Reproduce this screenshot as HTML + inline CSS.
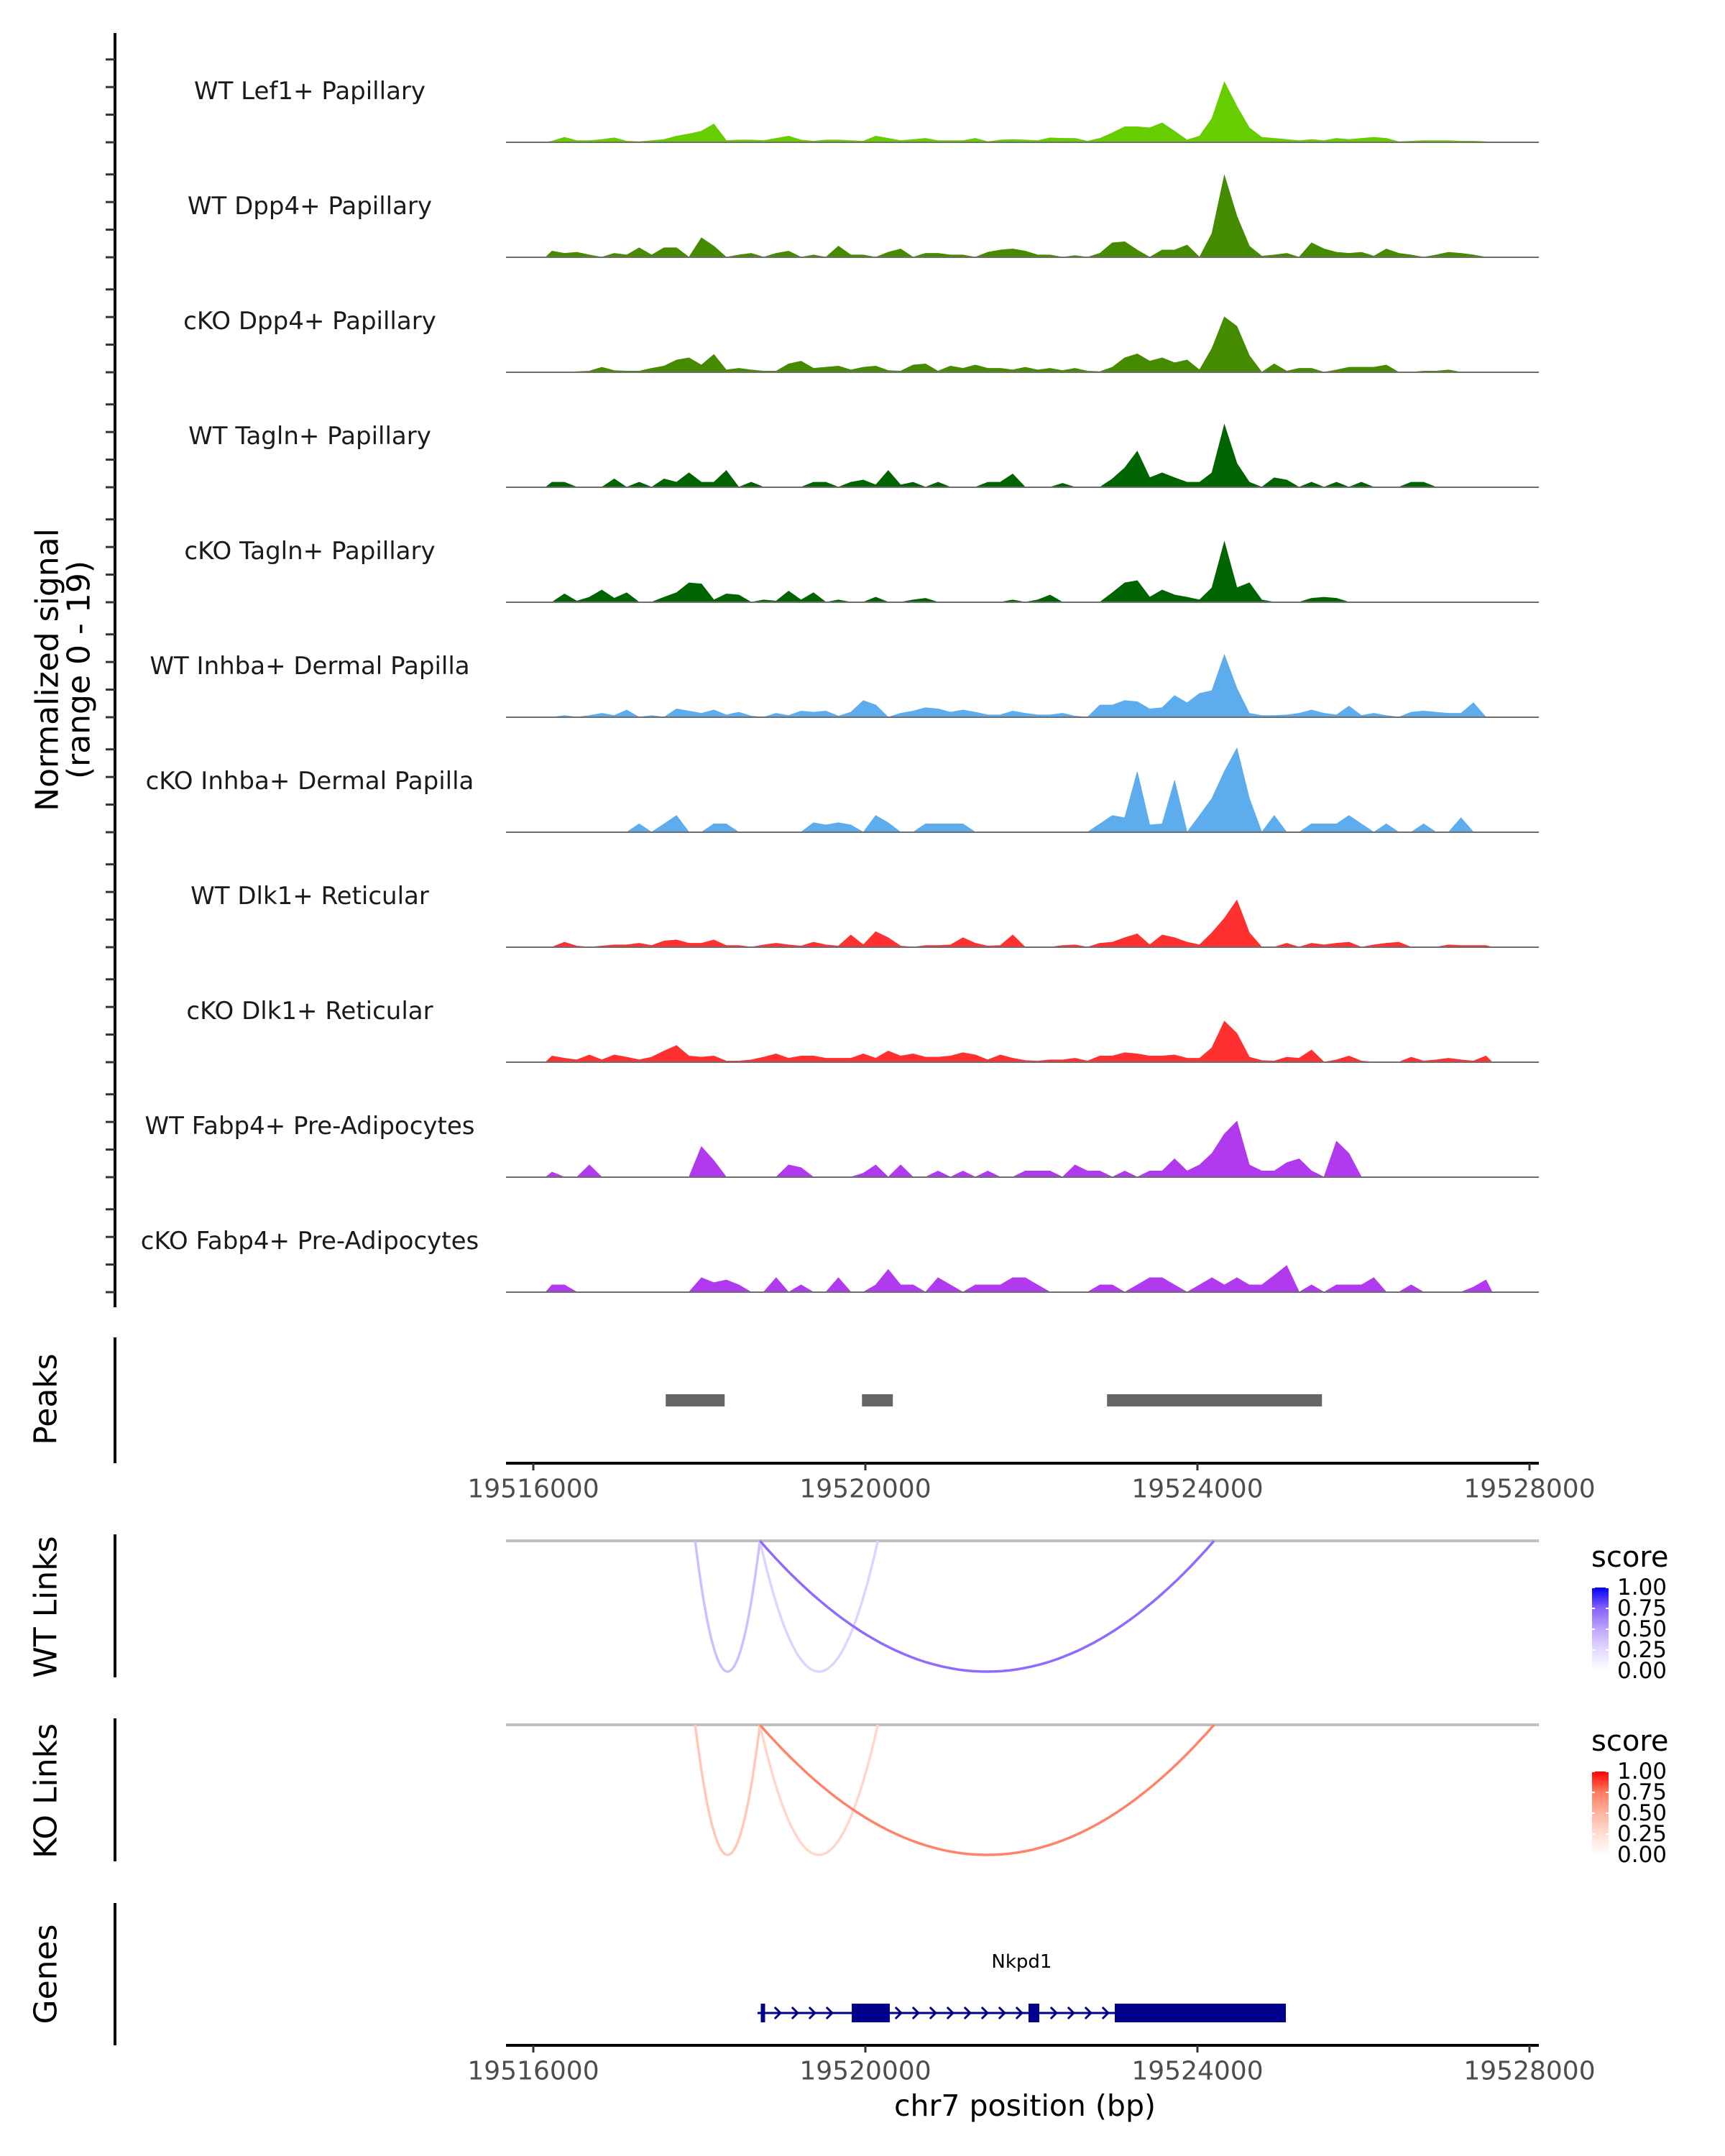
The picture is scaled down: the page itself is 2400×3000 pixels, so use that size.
<!DOCTYPE html>
<html><head><meta charset="utf-8"><title>Coverage plot chr7</title>
<style>
html,body{margin:0;padding:0;background:#fff;}
svg{display:block;font-family:"DejaVu Sans","Liberation Sans",sans-serif;}
</style></head>
<body>
<svg id="chart" width="2400" height="3000" viewBox="0 0 2400 3000" xmlns="http://www.w3.org/2000/svg">
<rect x="0" y="0" width="2400" height="3000" fill="#fff"/>
<g id="tracks"></g>
<g id="peaks"></g>
<g id="links"></g>
<g id="genes"></g>
<g id="axes"></g>
<text transform="translate(66,932) rotate(-90)" text-anchor="middle" dominant-baseline="central" font-size="44" fill="#000">Normalized signal</text>
<text transform="translate(110,932) rotate(-90)" text-anchor="middle" dominant-baseline="central" font-size="44" fill="#000">(range 0 - 19)</text>
<text transform="translate(64,1947) rotate(-90)" text-anchor="middle" dominant-baseline="central" font-size="44">Peaks</text>
<text transform="translate(64,2236) rotate(-90)" text-anchor="middle" dominant-baseline="central" font-size="44">WT Links</text>
<text transform="translate(64,2492) rotate(-90)" text-anchor="middle" dominant-baseline="central" font-size="44">KO Links</text>
<text transform="translate(64,2747) rotate(-90)" text-anchor="middle" dominant-baseline="central" font-size="44">Genes</text>
<text x="1426" y="2930" text-anchor="middle" dominant-baseline="central" font-size="41" fill="#000">chr7 position (bp)</text>
</svg>
<script>
// ---------- data ----------
const binStart = 19516150;
const binSize = 150;
const trackNames = ["WT Lef1+ Papillary","WT Dpp4+ Papillary","cKO Dpp4+ Papillary","WT Tagln+ Papillary","cKO Tagln+ Papillary","WT Inhba+ Dermal Papilla","cKO Inhba+ Dermal Papilla","WT Dlk1+ Reticular","cKO Dlk1+ Reticular","WT Fabp4+ Pre-Adipocytes","cKO Fabp4+ Pre-Adipocytes"];
const trackColors = ["#66CD00","#458B00","#458B00","#006400","#006400","#5CACEE","#5CACEE","#FF3030","#FF3030","#B23AEE","#B23AEE"];
const sigLef1WT = [0.2,0.9,0.3,0.3,0.5,0.8,0.2,0.1,0.3,0.5,1.1,1.5,2.0,3.3,0.3,0.4,0.4,0.3,0.7,1.1,0.4,0.2,0.4,0.4,0.3,0.2,1.1,0.7,0.3,0.5,0.7,0.3,0.3,0.3,0.7,0.1,0.4,0.5,0.4,0.3,0.8,0.7,0.7,0.2,0.7,1.7,2.8,2.8,2.6,3.5,2.0,0.4,1.1,4.3,10.9,6.5,2.6,0.9,0.7,0.5,0.3,0.5,0.3,0.7,0.5,0.7,0.9,0.7,0.1,0.2,0.3,0.3,0.3,0.2,0.2,0.1];
const sigDpp4WT = [1.1,0.7,0.9,0.4,0,0.7,0.4,1.7,0.4,1.7,1.7,0,3.5,2.0,0,0.4,0.7,0,0.7,1.1,0,0.4,0,2.0,0.4,0.4,0,0.9,1.5,0,0.7,0.7,0.4,0.4,0,0.9,1.3,1.5,1.1,0.4,0.4,0,0.3,0,0.7,2.6,2.8,1.3,0,1.3,1.3,2.2,0,4.3,14.8,7.4,2.0,0.2,0.4,0.7,0,2.6,1.5,0.9,0.7,0.9,0.2,1.5,0.7,0.4,0,0.4,0.9,0.7,0.4,0];
const sigDpp4KO = [0,0,0.1,0.2,0.9,0.3,0.2,0.2,0.7,1.1,2.2,2.6,1.3,3.2,0.4,0.7,0.4,0.2,0.2,1.5,2.0,0.7,0.9,1.1,0.4,0.9,1.1,0.3,0.2,1.3,1.5,0.2,1.1,0.7,1.3,0.7,0.7,0.4,0.9,0.4,0.7,0.3,0.7,0.2,0.1,0.9,2.6,3.3,2.0,2.6,1.7,2.2,0.4,4.3,10.0,8.3,3.0,0,1.5,0.2,0.7,0.7,0,0.4,0.9,0.9,0.9,1.3,0,0,0.2,0.2,0.4,0,0,0];
const sigTaglnWT = [0.9,0.9,0,0,0,1.5,0,0.9,0,1.5,0.9,2.6,0.9,0.9,3.0,0,0.9,0,0,0,0,0.9,0.9,0,0.9,1.3,0.4,3.0,0.4,0.9,0,0.9,0,0,0,0.9,0.9,2.4,0,0,0,0.7,0,0,0,1.5,3.5,6.5,1.7,2.6,1.7,0.9,0.9,2.6,11.3,4.3,0.9,0,1.7,1.3,0,0.9,0,0.9,0,0.9,0,0,0,0.9,0.9,0,0,0,0,0];
const sigTaglnKO = [0,1.5,0.2,0.9,2.2,0.7,1.7,0,0,0.9,1.7,3.5,3.3,0.4,1.5,1.3,0,0.4,0.2,2.0,0.4,1.7,0,0.4,0,0,0.9,0,0,0.4,0.7,0,0,0,0,0,0,0.4,0,0.4,1.3,0,0,0,0,1.7,3.5,3.9,0.9,2.2,1.3,0.9,0.4,2.6,10.9,2.6,3.5,0.4,0,0,0,0.7,0.9,0.7,0,0,0,0,0,0,0,0,0,0,0,0];
const sigInhbaWT = [0,0.3,0,0.3,0.7,0.3,1.3,0,0.3,0,1.5,1.1,0.7,1.3,0.4,0.9,0.2,0,0.7,0.3,1.1,0.9,1.1,0.2,0.9,3.0,2.2,0,0.7,1.1,1.7,1.5,0.9,1.3,0.9,0.4,0.4,1.1,0.7,0.4,0.4,0.7,0.2,0,2.2,2.2,3.0,2.8,1.5,1.7,3.9,2.6,4.3,4.8,11.3,5.2,0.7,0.3,0.3,0.4,0.7,1.3,0.7,0.4,2.0,0.3,0.7,0.3,0,0.9,1.1,0.9,0.7,0.7,2.6,0];
const sigInhbaKO = [0,0,0,0,0,0,0,1.5,0,1.5,3.0,0,0,1.5,1.5,0,0,0,0,0,0,1.7,1.3,1.7,1.3,0,3.0,1.7,0,0,1.5,1.5,1.5,1.5,0,0,0,0,0,0,0,0,0,0,1.5,3.0,2.6,10.9,1.3,1.5,9.3,0,3.0,6.1,11.0,15.2,6.1,0,3.0,0,0,1.5,1.5,1.5,3.0,1.5,0,1.5,0,0,1.5,0,0,2.6,0,0];
const sigDlk1WT = [0,0.9,0.2,0,0.2,0.4,0.4,0.7,0.3,1.1,1.3,0.7,0.7,1.3,0.3,0.3,0,0.4,0.7,0.4,0.2,0.9,0.4,0.2,2.2,0.4,2.8,1.7,0.2,0,0.3,0.3,0.4,1.7,0.7,0.2,0.3,2.2,0,0,0,0.3,0.4,0,0.7,0.9,1.7,2.4,0.4,2.2,1.7,0.9,0.4,2.6,5.2,8.5,2.6,0,0,0.7,0,0.7,0.4,0.7,0.9,0,0.4,0.7,0.9,0,0,0,0.4,0.3,0.3,0.3];
const sigDlk1KO = [1.1,0.7,0.4,1.3,0.4,1.3,0.9,0.4,0.9,2.0,3.0,1.1,0.9,1.1,0.2,0.2,0.4,0.9,1.5,0.7,1.1,1.1,0.7,0.7,0.7,1.5,0.7,2.0,1.1,1.5,0.9,0.9,1.1,1.7,1.3,0.4,1.3,0.7,0.3,0.2,0.4,0.4,0.7,0.2,1.1,1.1,1.7,1.5,1.1,1.1,1.3,0.7,0.7,2.6,7.4,5.2,0.9,0.3,0.2,0.9,0.7,2.2,0,0.4,1.1,0.2,0,0,0,0.9,0.2,0.4,0.7,0.4,0.2,1.1];
const sigFabp4WT = [0.9,0,0,2.2,0,0,0,0,0,0,0,0,5.5,3.0,0,0,0,0,0,2.2,1.7,0,0,0,0,0.7,2.2,0,2.2,0,0,1.1,0,1.1,0,1.1,0,0,1.1,1.1,1.1,0,2.2,1.1,1.1,0,1.1,0,1.1,1.1,3.3,1.1,2.2,4.3,7.8,10.1,2.2,1.1,1.1,2.6,3.3,1.1,0,6.5,4.3,0,0,0,0,0,0,0,0,0,0,0];
const sigFabp4KO = [1.3,1.3,0,0,0,0,0,0,0,0,0,0,2.6,1.7,2.2,1.3,0,0,2.6,0,1.3,0,0,2.6,0,0,1.3,4.1,1.3,1.3,0,2.6,1.3,0,1.3,1.3,1.3,2.6,2.6,1.3,0,0,0,0,1.3,1.3,0,1.3,2.6,2.6,1.3,0,1.3,2.6,1.3,2.6,1.3,1.3,3.0,4.8,0,1.3,0,1.3,1.3,1.3,2.6,0,0,1.3,0,0,0,0,0.9,2.2];
const signals = [sigLef1WT,sigDpp4WT,sigDpp4KO,sigTaglnWT,sigTaglnKO,sigInhbaWT,sigInhbaKO,sigDlk1WT,sigDlk1KO,sigFabp4WT,sigFabp4KO];
const yTickValues = [0,5,10,15];
const peakStarts = [19517595,19519959,19522911];
const peakEnds = [19518305,19520331,19525500];
const xTickValues = [19516000,19520000,19524000,19528000];
const xTickLabels = ["19516000","19520000","19524000","19528000"];
const linkStarts = [19517950,19518730,19518730];
const linkEnds = [19518730,19520150,19524200];
const wtLinkScores = [0.38,0.28,0.72];
const koLinkScores = [0.38,0.30,0.72];
const legendTicks = [1.00,0.75,0.50,0.25,0.00];
const legendTickLabels = ["1.00","0.75","0.50","0.25","0.00"];
const geneName = "Nkpd1";
const geneStart = 19518700, geneEnd = 19525065;
const exonStarts = [19518740,19519836,19521965,19523004];
const exonEnds = [19518790,19520294,19522095,19525065];

// ---------- scales ----------
const NS="http://www.w3.org/2000/svg";
function X(bp){return 742+(bp-19516000)*0.1155;}
const X0=704, X1=2141;
const trackBase0=198, trackStep=160, yMax=19, trackH=146;
function Ysig(i,v){return trackBase0+i*trackStep - v*trackH/yMax;}
function mk(tag,attrs,parent){const e=document.createElementNS(NS,tag);for(const k in attrs)e.setAttribute(k,attrs[k]);parent.appendChild(e);return e;}
function lerpHex(stops,s){
  const n=stops.length-1;let p=Math.max(0,Math.min(1,s))*n;let k=Math.min(Math.floor(p),n-1);let t=p-k;
  const a=stops[k],b=stops[k+1];const c=[0,1,2].map(j=>Math.round(a[j]+(b[j]-a[j])*t));
  return "rgb("+c.join(",")+")";
}
const wtStops=[[255,255,255],[228,218,255],[190,165,255],[135,98,255],[0,0,255]];
const koStops=[[255,255,255],[255,222,212],[255,180,160],[255,124,96],[255,0,0]];

// ---------- coverage tracks ----------
const gT=document.getElementById('tracks');
const gA=document.getElementById('axes');
mk('line',{x1:160,y1:46,x2:160,y2:1819,stroke:'#000','stroke-width':4},gA);
signals.forEach((sig,i)=>{
  const base=trackBase0+i*trackStep;
  const g=mk('g',{},gT);
  
  
  let pts=[];
  const xa=X(binStart), xb=X(binStart+binSize*sig.length);
  pts.push(xa.toFixed(1)+","+base);
  sig.forEach((v,j)=>{const bp=binStart+binSize*(j+0.5);pts.push(X(bp).toFixed(1)+","+Ysig(i,v).toFixed(1));});
  pts.push(xb.toFixed(1)+","+base);
  const poly=mk('polygon',{points:pts.join(" "),fill:trackColors[i],stroke:trackColors[i],'stroke-width':1},g);
  
  
  const bl=mk('line',{x1:X0,y1:base,x2:X1,y2:base,stroke:'#6e6e6e','stroke-width':2},g);
  
  
  const lab=mk('text',{x:431,y:base-71,'text-anchor':'middle','dominant-baseline':'central','font-size':34,fill:'#1a1a1a'},g);
  lab.textContent=trackNames[i];
  
  
  yTickValues.forEach(tv=>{
    const ty=Ysig(i,tv);
    const t=mk('line',{x1:147,y1:ty,x2:160,y2:ty,stroke:'#333','stroke-width':3},gA);
    
    
  });
});

// ---------- peaks ----------
const gP=document.getElementById('peaks');
mk('line',{x1:160,y1:1861,x2:160,y2:2036,stroke:'#000','stroke-width':4},gP);
peakStarts.forEach((s,k)=>{
  const r=mk('rect',{x:X(s),y:1940,width:X(peakEnds[k])-X(s),height:17,fill:'#666'},gP);
  
  
});
function xAxis(y,name){
  const g=mk('g',{},gA);
  
  
  mk('line',{x1:X0,y1:y,x2:X1,y2:y,stroke:'#000','stroke-width':4},g);
  xTickValues.forEach((tv,k)=>{
    mk('line',{x1:X(tv),y1:y,x2:X(tv),y2:y+10,stroke:'#333','stroke-width':3},g);
    const t=mk('text',{x:X(tv),y:y+36,'text-anchor':'middle','dominant-baseline':'central','font-size':36,fill:'#4d4d4d'},g);
    t.textContent=xTickLabels[k];
    
    
  });
}
xAxis(2036,'peaks-x-axis');
xAxis(2846,'genes-x-axis');

// ---------- links ----------
const gL=document.getElementById('links');
function linkPanel(base,depth,scores,stops,axTop,axBot,name){
  const g=mk('g',{},gL);
  
  
  mk('line',{x1:160,y1:axTop,x2:160,y2:axBot,stroke:'#000','stroke-width':4},g);
  mk('line',{x1:X0,y1:base,x2:X1,y2:base,stroke:'#bebebe','stroke-width':4},g);
  linkStarts.forEach((s,k)=>{
    const x1=X(s),x2=X(linkEnds[k]);
    let d='';
    for(let t=0;t<=60;t++){const u=t/60;const x=x1+(x2-x1)*u;const y=base+depth*(1-Math.pow(2*u-1,2));d+=(t?'L':'M')+x.toFixed(1)+','+y.toFixed(1);}
    const p=mk('path',{d:d,fill:'none',stroke:lerpHex(stops,scores[k]),'stroke-width':3.5},g);
    
    
  });
  const lg=mk('g',{},g);
  
  
  const off=base-2144;
  const tt=mk('text',{x:2214,y:2167+off,'dominant-baseline':'central','font-size':40,fill:'#000'},lg);
  tt.textContent='score';
  const gid='grad'+name;
  const defs=mk('defs',{},lg);
  const gr=mk('linearGradient',{id:gid,x1:0,y1:1,x2:0,y2:0},defs);
  [0,0.25,0.5,0.75,1].forEach(o=>mk('stop',{offset:o,'stop-color':lerpHex(stops,o)},gr));
  const barTop=2209+off, barBot=2325+off;
  mk('rect',{x:2215,y:barTop,width:23,height:barBot-barTop,fill:`url(#${gid})`},lg);
  legendTicks.forEach((v,k)=>{
    const ty=barBot-(barBot-barTop)*v;
    mk('line',{x1:2215,y1:ty,x2:2219,y2:ty,stroke:'#fff','stroke-width':2},lg);
    mk('line',{x1:2234,y1:ty,x2:2238,y2:ty,stroke:'#fff','stroke-width':2},lg);
    const t=mk('text',{x:2250,y:ty,'dominant-baseline':'central','font-size':31,fill:'#000'},lg);
    t.textContent=legendTickLabels[k];
  });
}
linkPanel(2144,182,wtLinkScores,wtStops,2135,2334,'wt-links');
linkPanel(2400,181,koLinkScores,koStops,2391,2590,'ko-links');

// ---------- genes ----------
const gG=document.getElementById('genes');
mk('line',{x1:160,y1:2648,x2:160,y2:2846,stroke:'#000','stroke-width':4},gG);
const gy=2801, gcol='#00008B';
mk('line',{x1:X(geneStart),y1:gy,x2:X(geneEnd),y2:gy,stroke:gcol,'stroke-width':3},gG);
for(let x=X(geneStart)+4;x<X(exonStarts[3])-6;x+=24){
  let inEx=false;exonStarts.forEach((s,k)=>{if(x>X(s)-8&&x<X(exonEnds[k])+4)inEx=true;});
  if(inEx)continue;
  const c=mk('polyline',{points:`${x-4},${gy-8} ${x+4},${gy} ${x-4},${gy+8}`,fill:'none',stroke:gcol,'stroke-width':3},gG);
  
  
}
exonStarts.forEach((s,k)=>{
  const r=mk('rect',{x:X(s),y:gy-13,width:Math.max(6,X(exonEnds[k])-X(s)),height:26,fill:gcol},gG);
  
  
});
const gl=mk('text',{x:(X(geneStart)+X(geneEnd))/2,y:2730,'text-anchor':'middle','dominant-baseline':'central','font-size':26,fill:'#000'},gG);
gl.textContent=geneName;


</script>
</body></html>
